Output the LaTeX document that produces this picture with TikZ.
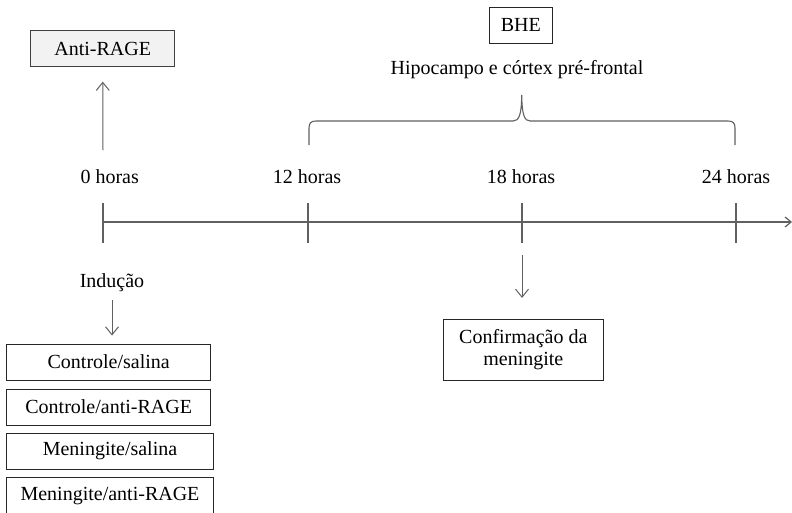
\documentclass[tikz,border=0pt]{standalone}
\usepackage{fontspec}
\setmainfont{LiberationSerif}[Extension=.ttf,UprightFont=*-Regular,BoldFont=*-Bold]
\usetikzlibrary{arrows.meta}
\definecolor{boxfill}{HTML}{F2F2F2}
\definecolor{linegray}{HTML}{606060}
\begin{document}
\begin{tikzpicture}[x=1pt,y=-1pt,
  font=\rmfamily\fontsize{20}{22}\selectfont,
  box/.style={draw=black!85,line width=0.9pt,inner sep=0pt,minimum height=36pt},
  axis/.style={draw=linegray,line width=1.2pt},
  arr/.style={draw=linegray,line width=1pt,-{Straight Barb[length=8pt,width=13pt]}},
  lbl/.style={inner sep=0pt}]
\useasboundingbox (0,0) rectangle (792,512);
\clip (0,0) rectangle (792,512);

% boxes
\node[box,draw=black!75,fill=boxfill,minimum width=144pt,minimum height=36.4pt] (anti) at (102.7,48.5) {Anti-RAGE};
\node[box,minimum width=63.7pt] (bhe) at (520.9,25.3) {BHE};
\node[lbl] (hipo) at (517,70) {Hipocampo e córtex pré-frontal};

% timeline coordinates
\coordinate (t0) at (103,222);
\coordinate (t12) at (308,222);
\coordinate (t18) at (522,222);
\coordinate (t24) at (736,222);
\coordinate (tend) at (792,222);
\coordinate (a0) at (103,150);

\draw[axis,-{Straight Barb[length=6pt,width=10pt]}] (t0) -- (tend);
\foreach \t in {t0,t12,t18,t24}{
  \draw[axis] (\t) ++(0,-19) -- ++(0,40);
}

% labels
\node[lbl] (h0) at (109.7,177) {0 horas};
\node[lbl] (h12) at (307,177) {12 horas};
\node[lbl] (h18) at (521,177) {18 horas};
\node[lbl] (h24) at (736,177) {24 horas};

% brace
\draw[axis,line width=1.1pt] (309,145) -- (309,128) .. controls (309,123) and (311,121) .. (316,121)
  -- (513,121) .. controls (519,121) and (521.5,115) .. (521.7,95)
  .. controls (522,115) and (524.5,121) .. (530,121)
  -- (728,121) .. controls (733,121) and (735,123) .. (735,128) -- (735,145);

% anti-RAGE arrow
\draw[arr,shorten >=14.5pt] (a0) -- (anti.south);

% induction
\node[lbl] (ind) at (112,283) {Indução};
\node[box,minimum width=204pt] (g1) at (108.7,362) {Controle/salina};
\node[box,minimum width=204pt] (g2) at (108.7,407) {Controle/anti-RAGE};
\node[box,minimum width=206.6pt] (g3) at (110,451) {Meningite/salina};
\node[box,minimum width=206.6pt] (g4) at (110,495.7) {Meningite/anti-RAGE};
\draw[arr,shorten <=8pt,shorten >=8pt] (ind.south) -- (ind.south |- g1.north);

% confirmation
\node[box,minimum width=160pt,minimum height=60.7pt,align=center] (conf) at (523.3,349.7) {Confirmação da\\meningite};
\draw[arr,shorten <=33pt,shorten >=21pt] (t18) -- (t18 |- conf.north);
\end{tikzpicture}
\end{document}
